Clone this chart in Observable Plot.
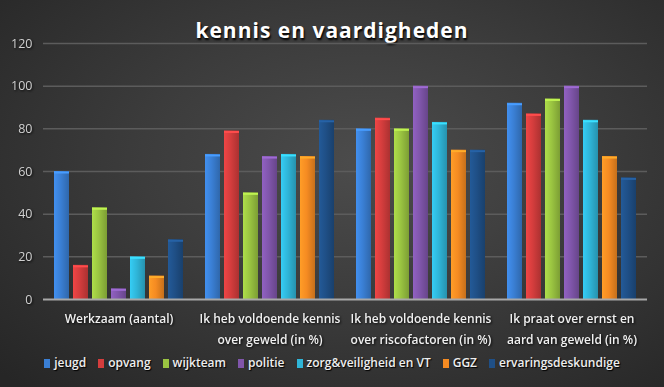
<!DOCTYPE html>
<html><head><meta charset="utf-8">
<script src="https://cdn.jsdelivr.net/npm/d3@7"></script>
<script src="https://cdn.jsdelivr.net/npm/@observablehq/plot@0.6"></script>
<style>
body{margin:0;background:#2a2a2a;}
#c{width:664px;height:387px;overflow:hidden;background:radial-gradient(ellipse 75% 80% at 55% 42%, #4c4c4c 0%, #3c3c3c 45%, #262626 100%);}
#title{height:36px;box-sizing:border-box;padding-top:16px;line-height:21px;text-align:center;color:#fff;font:bold 21px "Open Sans";letter-spacing:1px;text-shadow:1px 2px 2px #000;}
#chart svg{display:block;}
#chart svg text{filter:drop-shadow(1px 1px 1px rgba(0,0,0,0.8));}
#legend{height:35px;box-sizing:border-box;padding-top:3px;text-align:center;font:600 12px "Open Sans";color:#eee;line-height:16px;white-space:nowrap;text-shadow:1px 1px 1px #000;}
#legend span.item{margin:0 6px;}
#legend span.sw{display:inline-block;width:6px;height:9px;margin-right:4px;vertical-align:-1px;}
</style>
</head><body>
<div id="c">
<div id="title">kennis en vaardigheden</div>
<div id="chart"></div>
<div id="legend"></div>
</div>
<script>
const groups = ["Werkzaam (aantal)", "Ik heb voldoende kennis\nover geweld (in %)", "Ik heb voldoende kennis\nover riscofactoren (in %)", "Ik praat over ernst en\naard van geweld (in %)"];
const series = ["jeugd","opvang","wijkteam","politie","zorg&veiligheid en VT","GGZ","ervaringsdeskundige"];
const colors = ["#3a7fd4","#d43d3d","#9ac441","#8056ab","#2fb5d8","#f58b22","#1f4f86"];
const jeugd = [60,68,80,92];
const opvang = [16,79,85,87];
const wijkteam = [43,50,80,94];
const politie = [5,67,100,100];
const zorg = [20,68,83,84];
const ggz = [11,67,70,67];
const ervaring = [28,84,70,57];
const yTicks = [0,20,40,60,80,100,120];

const valuesBySeries = [jeugd,opvang,wijkteam,politie,zorg,ggz,ervaring];
const data = [];
series.forEach((s,i)=>groups.forEach((g,j)=>data.push({group:g, series:s, si:i, value:valuesBySeries[i][j]})));

const barMarks = series.map((s,i)=>Plot.barY(data.filter(d=>d.si===i), {fx:"group", x:"series", y:"value", fill:`url(#grad${i})`}));
const capMarks = series.map((s,i)=>Plot.tickY(data.filter(d=>d.si===i), {fx:"group", x:"series", y:"value", stroke:d3.color(colors[i]).brighter(0.6).formatHex(), strokeWidth:2, dy:1}));

const chart = Plot.plot({
  width:664, height:316,
  marginLeft:43, marginRight:17, marginTop:7, marginBottom:53,
  style:{background:"transparent", color:"#ddd", fontFamily:"Open Sans", fontSize:"12px", overflow:"visible"},
  fx:{domain:groups, padding:0, label:null, axis:null},
  x:{domain:series, paddingInner:0.22, paddingOuter:0.4, axis:null},
  y:{domain:[0,120], label:null, axis:null},
  marks:[
    Plot.gridY(yTicks.filter(t=>t>0), {stroke:"#5c5c5c", strokeOpacity:1, strokeWidth:1.5}),
    Plot.axisY(yTicks, {tickSize:0, tickPadding:11, fill:"#d0d0d0", fontSize:12.5, label:null}),
    ...barMarks,
    ...capMarks,
    Plot.ruleY([0], {stroke:"#a8a8a8", strokeWidth:2}),
    Plot.axisFx({anchor:"bottom", tickSize:0, tickPadding:8, fill:"#f0f0f0", fontSize:12, fontWeight:600, lineHeight:1.8, label:null})
  ]
});
document.getElementById("chart").appendChild(chart);

const svg = d3.select(chart);
const defs = svg.insert("defs", ":first-child");
colors.forEach((c,i)=>{
  const g = defs.append("linearGradient").attr("id",`grad${i}`).attr("x1","0").attr("x2","1").attr("y1","0").attr("y2","0");
  g.append("stop").attr("offset","0%").attr("stop-color", d3.color(c).brighter(0.35).formatHex());
  g.append("stop").attr("offset","45%").attr("stop-color", c);
  g.append("stop").attr("offset","100%").attr("stop-color", d3.color(c).darker(0.6).formatHex());
});

const legend = d3.select("#legend");
series.forEach((s,i)=>{
  const it = legend.append("span").attr("class","item");
  it.append("span").attr("class","sw").style("background", colors[i]);
  it.append("span").text(s);
});
</script>
</body></html>
